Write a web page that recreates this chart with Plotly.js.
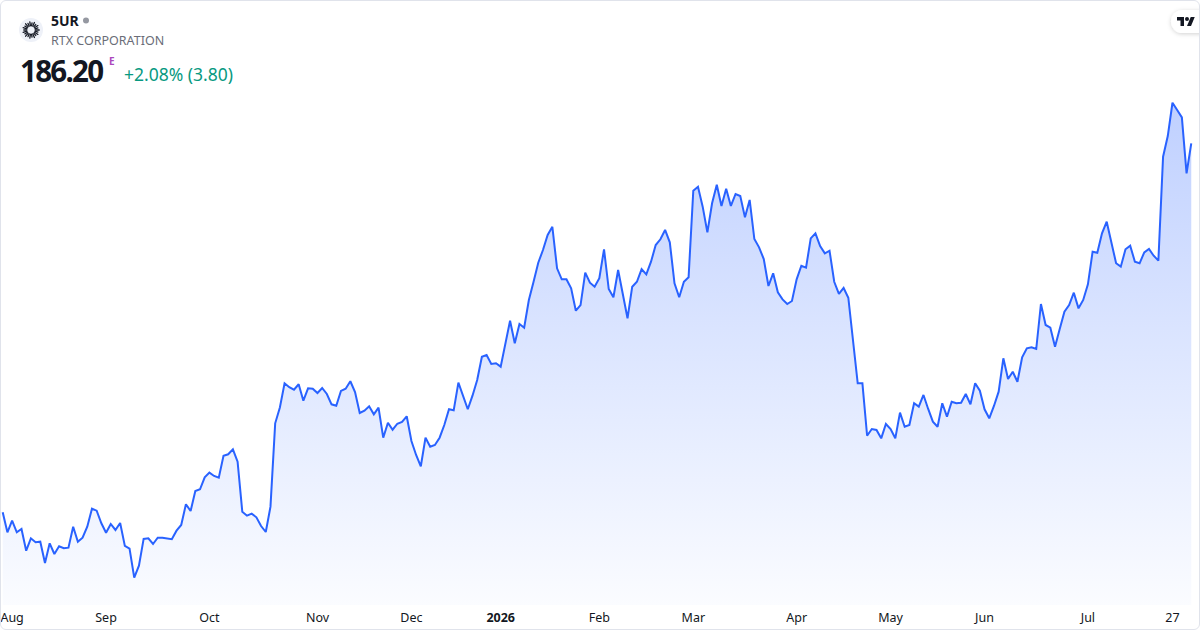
<!DOCTYPE html>
<html>
<head>
<meta charset="utf-8">
<script src="https://cdn.plot.ly/plotly-3.0.1.min.js"></script>
<style>
  html, body { margin: 0; padding: 0; background: #ffffff; }
  #wrap { position: relative; width: 1200px; height: 630px; overflow: hidden; background: #fff; }
  #chart { position: absolute; left: 0; top: 0; width: 1200px; height: 630px; }
  #overlay { position: absolute; left: 0; top: 0; width: 1200px; height: 630px; pointer-events: none; }
  #frame { position: absolute; left: 0; top: 0; width: 1200px; height: 630px; box-sizing: border-box;
           border: 1px solid #e0e3eb; border-radius: 6px; pointer-events: none; }
</style>
</head>
<body>
<div id="wrap">
  <div id="chart"></div>
  <svg id="overlay" width="1200" height="630" xmlns="http://www.w3.org/2000/svg">
    <defs>
      <filter id="sh" x="-50%" y="-50%" width="200%" height="200%">
        <feDropShadow dx="0" dy="1" stdDeviation="2" flood-color="#000" flood-opacity="0.18"/>
      </filter>
    </defs>
    <!-- company logo -->
    <circle cx="31" cy="30" r="12" fill="#eef1f8"/>
    <g id="sun" stroke="#131722" stroke-width="1.3" stroke-linecap="round"></g>
    <circle cx="31" cy="30" r="3.2" fill="#eef1f8"/>
    <text x="51" y="26" font-family="Noto Sans" font-weight="700" font-size="14" fill="#131722">5UR</text>
    <circle cx="86" cy="20.5" r="3" fill="#9598a1"/>
    <text x="51" y="45" font-family="Noto Sans" font-size="12.5" fill="#6a6d78">RTX CORPORATION</text>
    <text x="20" y="81.5" font-family="Noto Sans" font-weight="700" font-size="29.5" letter-spacing="-1.7" fill="#131722">186.20</text>
    <text x="109" y="65" font-family="Noto Sans" font-weight="700" font-size="10" fill="#ab47bc">E</text>
    <text x="124" y="81" font-family="Noto Sans" font-size="17.5" fill="#089981">+2.08% (3.80)</text>
    <!-- TradingView badge -->
    <rect x="1171" y="10" width="44" height="23" rx="11.5" fill="#ffffff" filter="url(#sh)"/>
    <g transform="translate(1177,15) scale(0.5)" fill="#131722">
      <path d="M14 22H7V11H0V4h14v18z"/>
      <path d="M28 22h-8l7.5-18h8L28 22z"/>
      <circle cx="20" cy="8" r="4"/>
    </g>
  </svg>
  <div id="frame"></div>
</div>
<script>
// Daily closing prices (EUR), oldest first
const values = [
  139.45,136.91,138.38,136.91,137.33,134.58,136.15,135.65,135.72,133.02,
  135.52,134.16,135.14,134.89,134.96,137.62,135.72,136.23,137.62,139.90,
  139.65,138.05,136.86,137.97,137.21,138.09,135.18,134.84,131.16,132.68,
  136.07,136.15,135.43,136.23,136.23,136.10,136.03,137.12,137.84,140.46,
  139.61,142.15,142.36,143.88,144.47,144.05,143.83,146.62,146.80,147.43,
  145.86,139.52,139.02,139.27,138.81,137.71,136.95,140.16,150.72,152.73,
  155.79,155.29,154.98,155.67,153.59,155.16,155.11,154.56,155.20,154.44,
  153.13,152.95,154.82,155.11,156.05,154.69,152.03,152.32,152.88,151.86,
  152.70,148.90,150.80,149.91,150.67,150.89,151.61,148.48,146.71,145.28,
  148.90,147.76,147.97,148.90,150.51,152.50,152.37,155.87,154.22,152.50,
  154.22,156.21,159.16,159.38,158.24,158.33,157.90,160.64,163.72,160.86,
  163.31,162.84,166.35,168.66,171.07,172.68,174.58,175.63,170.36,168.97,
  168.97,167.83,164.99,165.71,169.81,168.54,168.03,169.10,172.77,167.74,
  166.69,170.15,167.11,164.03,168.03,168.66,170.27,169.60,171.20,173.31,
  174.04,175.22,173.66,168.46,166.69,168.66,169.22,180.19,180.70,178.17,
  174.92,178.60,180.95,178.26,180.45,178.26,179.78,179.52,176.82,179.02,
  174.07,173.02,171.54,168.12,169.73,167.32,166.43,165.84,166.22,168.97,
  170.69,170.44,174.16,174.80,173.19,172.26,172.59,168.66,167.11,167.87,
  166.64,160.86,155.79,155.79,149.15,150.00,149.88,148.82,150.64,150.00,
  148.82,152.07,150.29,150.51,153.26,152.83,154.31,152.54,150.93,150.29,
  153.26,151.56,153.46,153.26,153.33,154.44,153.13,155.79,154.85,152.50,
  151.36,152.92,154.73,158.96,156.34,157.26,155.99,159.09,160.23,160.35,
  160.14,165.84,163.18,162.84,160.43,162.67,164.86,165.71,167.27,165.29,
  166.35,168.34,172.47,172.34,174.80,176.27,173.53,171.00,170.57,172.77,
  173.23,171.20,171.00,172.39,172.81,171.96,171.33,184.50,187.12,191.34,
  190.42,189.49,182.40,186.20
];
// Trading-day index of each month label, and the labels
const tickIndex  = [2, 22, 44, 67, 87, 106, 127, 147, 169, 189, 209, 231, 249];
const tickLabels = ['Aug','Sep','Oct','Nov','Dec','<b>2026</b>','Feb','Mar','Apr','May','Jun','Jul','27'];

const days = values.map((v, i) => i);

// sunburst logo strokes
(function () {
  const g = document.getElementById('sun');
  const n = 22;
  for (let k = 0; k < n; k++) {
    const a = (k / n) * Math.PI * 2;
    const r1 = 4.2, r2 = (k % 2 === 0) ? 8.2 : 7.2;
    const l = document.createElementNS('http://www.w3.org/2000/svg', 'line');
    l.setAttribute('x1', 31 + r1 * Math.cos(a));
    l.setAttribute('y1', 30 + r1 * Math.sin(a));
    l.setAttribute('x2', 31 + r2 * Math.cos(a));
    l.setAttribute('y2', 30 + r2 * Math.sin(a));
    g.appendChild(l);
  }
})();

const yMin = 127.70, yMax = 204.36;

const trace = {
  x: days,
  y: values,
  type: 'scatter',
  mode: 'lines',
  line: { color: '#2962FF', width: 2 },
  fill: 'tozeroy',
  fillgradient: {
    type: 'vertical',
    start: yMin,
    stop: 192,
    colorscale: [[0, 'rgba(41,98,255,0.02)'], [1, 'rgba(41,98,255,0.30)']]
  },
  hoverinfo: 'skip'
};

const layout = {
  width: 1200,
  height: 630,
  margin: { l: 0, r: 0, t: 0, b: 25, pad: 0 },
  paper_bgcolor: '#ffffff',
  plot_bgcolor: '#ffffff',
  showlegend: false,
  xaxis: {
    range: [-0.575, 254.86],
    tickmode: 'array',
    tickvals: tickIndex,
    ticktext: tickLabels,
    showgrid: false,
    zeroline: false,
    showline: false,
    ticks: '',
    ticklabelstandoff: 3,
    ticklabeloverflow: 'allow',
    tickfont: { family: 'Noto Sans', size: 12.5, color: '#131722' },
    fixedrange: true
  },
  yaxis: {
    range: [yMin, yMax],
    visible: false,
    showgrid: false,
    zeroline: false,
    fixedrange: true
  }
};

Plotly.newPlot('chart', [trace], layout, { staticPlot: true, displayModeBar: false });
</script>
</body>
</html>
